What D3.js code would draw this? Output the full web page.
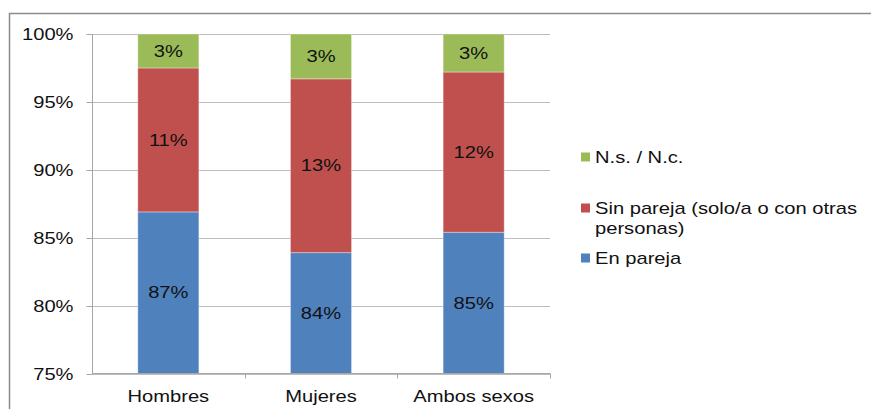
<!DOCTYPE html>
<html>
<head>
<meta charset="utf-8">
<script src="https://cdn.jsdelivr.net/npm/d3@7"></script>
<style>
  body { margin: 0; background: #fff; }
  svg { display: block; font-family: "Liberation Sans", Arial, sans-serif; }
</style>
</head>
<body>
<svg id="chart" width="871" height="409"></svg>
<script>
// data
var categories = ['Hombres', 'Mujeres', 'Ambos sexos']
var enPareja = [86.9, 83.9, 85.4]
var sinPareja = [10.6, 12.8, 11.8]
var nsnc = [2.5, 3.3, 2.8]
var yTicks = [75, 80, 85, 90, 95, 100]

var series = [
  {key: 'en', name: 'En pareja', color: '#4F81BD', values: enPareja},
  {key: 'sin', name: 'Sin pareja (solo/a o con otras personas)', color: '#C0504D', values: sinPareja},
  {key: 'ns', name: 'N.s. / N.c.', color: '#9BBB59', values: nsnc}
]

// the original picture is stretched sideways, so text is widened a bit
var SX = 1.26
function widen(sel) {
  sel.each(function() {
    var t = d3.select(this)
    var x = +t.attr('x') || 0
    t.attr('x', x / SX).attr('transform', 'scale(' + SX + ',1)')
    t.selectAll('tspan').each(function() {
      var ts = d3.select(this)
      if (ts.attr('x') !== null) ts.attr('x', +ts.attr('x') / SX)
    })
  })
}

var svg = d3.select('#chart')

// outer frame (only top and left edges visible)
svg.append('rect')
  .attr('x', 9.5).attr('y', 13.5)
  .attr('width', 900).attr('height', 450)
  .attr('fill', 'none').attr('stroke', '#8c8c8c').attr('stroke-width', 1.5)

var x = d3.scaleBand().domain(categories).range([92, 550]).paddingInner(0.6).paddingOuter(0.3)
var xb = d3.scaleBand().domain(categories).range([92, 550])
var y = d3.scaleLinear().domain([75, 100]).range([373.5, 34])

// gridlines
svg.append('g').selectAll('line').data(yTicks).enter().append('line')
  .attr('x1', 92).attr('x2', 550)
  .attr('y1', function(d) { return Math.round(y(d)) + 0.5 })
  .attr('y2', function(d) { return Math.round(y(d)) + 0.5 })
  .attr('stroke', '#bdbdbd')

// stacked data
var rows = categories.map(function(c, i) {
  var r = {cat: c}
  series.forEach(function(s) { r[s.key] = s.values[i] })
  return r
})
var stack = d3.stack().keys(series.map(function(s) { return s.key }))
var stacked = stack(rows)

var layers = svg.append('g').selectAll('g').data(stacked).enter().append('g')
  .attr('fill', function(d, i) { return series[i].color })

layers.selectAll('rect').data(function(d) { return d }).enter().append('rect')
  .attr('x', function(d) { return x(d.data.cat) })
  .attr('width', x.bandwidth())
  .attr('y', function(d) { return y(d[1]) })
  .attr('height', function(d) { return y(Math.max(d[0], 75)) - y(d[1]) })
  .attr('stroke', 'rgba(255,255,255,0.35)').attr('stroke-width', 1)

// value labels
var vl = layers.selectAll('text').data(function(d) { return d }).enter().append('text')
  .attr('x', function(d) { return x(d.data.cat) + x.bandwidth() / 2 })
  .attr('y', function(d) { return (y(Math.max(d[0], 75)) + y(d[1])) / 2 })
  .attr('dy', '0.36em')
  .attr('text-anchor', 'middle')
  .attr('fill', '#111')
  .attr('font-size', 16)
  .text(function(d) { return Math.round(d[1] - d[0]) + '%' })
widen(vl)

// y axis
var yAxis = d3.axisLeft(y).tickValues(yTicks).tickSize(6).tickPadding(12)
  .tickFormat(function(d) { return d + '%' })
var yg = svg.append('g').attr('transform', 'translate(92.5,0)').call(yAxis)
yg.selectAll('.tick').attr('transform', function(d) { return 'translate(0,' + (Math.round(y(d)) + 0.5) + ')' })
yg.select('.domain').attr('stroke', '#a6a6a6').attr('d', 'M0,34V374')
yg.selectAll('.tick line').attr('stroke', '#a6a6a6')
yg.selectAll('.tick text').attr('font-size', 16).attr('fill', '#111')
  .attr('font-family', '"Liberation Sans", Arial, sans-serif')
widen(yg.selectAll('.tick text').attr('x', -19))

// x axis
var xAxis = d3.axisBottom(xb).tickSize(0).tickPadding(14)
var xg = svg.append('g').attr('transform', 'translate(0,373.5)').call(xAxis)
xg.select('.domain').attr('stroke', '#a6a6a6').attr('d', 'M92,0H550')
xg.selectAll('.tick text').attr('font-size', 16).attr('fill', '#111')
  .attr('font-family', '"Liberation Sans", Arial, sans-serif')
  .attr('y', 17)
widen(xg.selectAll('.tick text'))
xg.append('g').selectAll('line').data(categories).enter().append('line')
  .attr('x1', function(d) { return Math.round(xb(d) + xb.bandwidth()) + 0.5 })
  .attr('x2', function(d) { return Math.round(xb(d) + xb.bandwidth()) + 0.5 })
  .attr('y1', 0).attr('y2', 5)
  .attr('stroke', '#a6a6a6')

// legend
var legendItems = [
  {s: series[2], lines: ['N.s. / N.c.'], y: 157},
  {s: series[1], lines: ['Sin pareja (solo/a o con otras', 'personas)'], y: 208},
  {s: series[0], lines: ['En pareja'], y: 258}
]
var lg = svg.append('g').selectAll('g').data(legendItems).enter().append('g')
lg.append('rect')
  .attr('x', 581).attr('y', function(d) { return d.y - 4.5 })
  .attr('width', 9).attr('height', 9)
  .attr('fill', function(d) { return d.s.color })
var lt = lg.append('text')
  .attr('x', 595).attr('y', function(d) { return d.y })
  .attr('font-size', 16).attr('fill', '#111')
lt.selectAll('tspan').data(function(d) { return d.lines }).enter().append('tspan')
  .attr('x', 595).attr('dy', function(d, i) { return i === 0 ? '0.36em' : '1.25em' })
  .text(function(d) { return d })
widen(lt)
</script>
</body>
</html>
